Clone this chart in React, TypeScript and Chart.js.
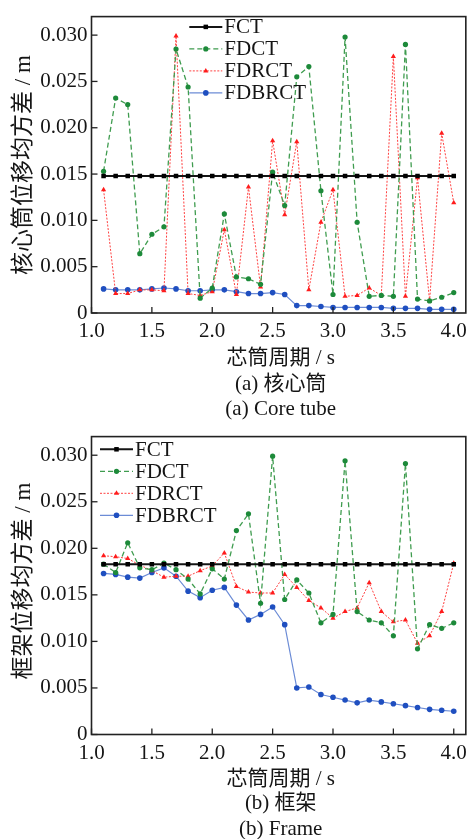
import React, { useEffect, useRef } from "react";
import Chart from "chart.js/auto";

const periods = [1.1, 1.2, 1.3, 1.4, 1.5, 1.6, 1.7, 1.8, 1.9, 2.0, 2.1, 2.2, 2.3, 2.4, 2.5, 2.6, 2.7, 2.8, 2.9, 3.0, 3.1, 3.2, 3.3, 3.4, 3.5, 3.6, 3.7, 3.8, 3.9, 4.0];

const coreFCT = [0.0148, 0.0148, 0.0148, 0.0148, 0.0148, 0.0148, 0.0148, 0.0148, 0.0148, 0.0148, 0.0148, 0.0148, 0.0148, 0.0148, 0.0148, 0.0148, 0.0148, 0.0148, 0.0148, 0.0148, 0.0148, 0.0148, 0.0148, 0.0148, 0.0148, 0.0148, 0.0148, 0.0148, 0.0148, 0.0148];
const coreFDCT = [0.0153, 0.0232, 0.0225, 0.0064, 0.0085, 0.0093, 0.0285, 0.0244, 0.0016, 0.0027, 0.0107, 0.0039, 0.0037, 0.0031, 0.0152, 0.0116, 0.0255, 0.0266, 0.0132, 0.0020, 0.0298, 0.0098, 0.0018, 0.0019, 0.0018, 0.0290, 0.0015, 0.0013, 0.0017, 0.0022];
const coreFDRCT = [0.0133, 0.0021, 0.0021, 0.0025, 0.0025, 0.0024, 0.0299, 0.0021, 0.0019, 0.0023, 0.0090, 0.0020, 0.0136, 0.0028, 0.0186, 0.0106, 0.0185, 0.0025, 0.0098, 0.0133, 0.0018, 0.0019, 0.0027, 0.0019, 0.0277, 0.0018, 0.0146, 0.0013, 0.0194, 0.0119];
const coreFDBRCT = [0.0026, 0.0025, 0.0025, 0.0025, 0.0026, 0.0027, 0.0026, 0.0024, 0.0024, 0.0025, 0.0025, 0.0023, 0.0021, 0.0021, 0.0022, 0.0020, 0.0008, 0.0008, 0.0007, 0.0006, 0.0006, 0.0006, 0.0006, 0.0006, 0.0005, 0.0005, 0.0005, 0.0004, 0.0004, 0.0004];

const frameFCT = [0.0183, 0.0183, 0.0183, 0.0183, 0.0183, 0.0183, 0.0183, 0.0183, 0.0183, 0.0183, 0.0183, 0.0183, 0.0183, 0.0183, 0.0183, 0.0183, 0.0183, 0.0183, 0.0183, 0.0183, 0.0183, 0.0183, 0.0183, 0.0183, 0.0183, 0.0183, 0.0183, 0.0183, 0.0183, 0.0183];
const frameFDCT = [0.0183, 0.0174, 0.0206, 0.0179, 0.0177, 0.0184, 0.0177, 0.0167, 0.0151, 0.0178, 0.0167, 0.0219, 0.0237, 0.0141, 0.0299, 0.0145, 0.0166, 0.0152, 0.0120, 0.0129, 0.0294, 0.0132, 0.0123, 0.0120, 0.0106, 0.0291, 0.0092, 0.0118, 0.0114, 0.0120];
const frameFDRCT = [0.0192, 0.0191, 0.0189, 0.0182, 0.0176, 0.0169, 0.0170, 0.0170, 0.0176, 0.0181, 0.0195, 0.0159, 0.0153, 0.0152, 0.0152, 0.0172, 0.0158, 0.0144, 0.0136, 0.0125, 0.0132, 0.0136, 0.0163, 0.0132, 0.0121, 0.0123, 0.0098, 0.0106, 0.0132, 0.0184];
const frameFDBRCT = [0.0173, 0.0172, 0.0169, 0.0168, 0.0174, 0.0179, 0.0170, 0.0154, 0.0147, 0.0155, 0.0158, 0.0139, 0.0123, 0.0129, 0.0137, 0.0118, 0.0050, 0.0051, 0.0043, 0.0040, 0.0037, 0.0034, 0.0037, 0.0035, 0.0033, 0.0031, 0.0029, 0.0027, 0.0026, 0.0025];

const xTicks = [1.0, 1.5, 2.0, 2.5, 3.0, 3.5, 4.0];
const yTicks = [0, 0.005, 0.01, 0.015, 0.02, 0.025, 0.03];
const seriesNames = ["FCT", "FDCT", "FDRCT", "FDBRCT"];

const SERIF = "'Liberation Serif', serif";
const TITLE_FONT = "'Liberation Serif', 'Noto Sans CJK SC', serif";

const seriesStyles = [
  { borderColor: "#151515", pointBackgroundColor: "#000", pointBorderColor: "#000", borderWidth: 2, borderDash: [] as number[], pointStyle: "rect", pointRadius: 3.2 },
  { borderColor: "#3f9c4f", pointBackgroundColor: "#1d8a3a", pointBorderColor: "#1d8a3a", borderWidth: 1.3, borderDash: [5, 3], pointStyle: "circle", pointRadius: 2.6 },
  { borderColor: "#ff4040", pointBackgroundColor: "#ff1c1c", pointBorderColor: "#ff1c1c", borderWidth: 1, borderDash: [2, 1.5], pointStyle: "triangle", pointRadius: 3 },
  { borderColor: "#6c8cd6", pointBackgroundColor: "#1f4fc0", pointBorderColor: "#1f4fc0", borderWidth: 1.2, borderDash: [] as number[], pointStyle: "circle", pointRadius: 2.8 },
];

function drawMarker(ctx: CanvasRenderingContext2D, style: string, x: number, y: number, r: number) {
  ctx.beginPath();
  if (style === "rect") {
    const s = Math.SQRT1_2 * r;
    ctx.rect(x - s, y - s, 2 * s, 2 * s);
  } else if (style === "triangle") {
    ctx.moveTo(x, y - r);
    ctx.lineTo(x + r * 0.866, y + r * 0.5);
    ctx.lineTo(x - r * 0.866, y + r * 0.5);
    ctx.closePath();
  } else {
    ctx.arc(x, y, r, 0, Math.PI * 2);
  }
  ctx.fill();
}

const decorPlugin = {
  id: "decor",
  afterDatasetsDraw(chart: any, _args: any, opts: any) {
    const { ctx, chartArea, scales } = chart;
    const { left, top, right, bottom } = chartArea;
    ctx.save();
    ctx.strokeStyle = "#222";
    ctx.lineWidth = 1.3;
    ctx.setLineDash([]);
    scales.x.ticks.forEach((t: any) => {
      const px = scales.x.getPixelForValue(t.value);
      ctx.beginPath();
      ctx.moveTo(px, bottom);
      ctx.lineTo(px, bottom - 6);
      ctx.stroke();
    });
    scales.y.ticks.forEach((t: any) => {
      const py = scales.y.getPixelForValue(t.value);
      ctx.beginPath();
      ctx.moveTo(left, py);
      ctx.lineTo(left + 6, py);
      ctx.stroke();
    });
    ctx.lineWidth = 1.6;
    ctx.strokeRect(left, top, right - left, bottom - top);

    // legend
    const x0 = left + opts.legendX;
    chart.data.datasets.forEach((ds: any, i: number) => {
      const y = top + opts.legendY + i * 22;
      ctx.save();
      ctx.strokeStyle = ds.borderColor;
      ctx.lineWidth = ds.borderWidth;
      ctx.setLineDash(ds.borderDash || []);
      ctx.beginPath();
      ctx.moveTo(x0, y);
      ctx.lineTo(x0 + 33, y);
      ctx.stroke();
      ctx.setLineDash([]);
      ctx.fillStyle = ds.pointBackgroundColor;
      drawMarker(ctx, ds.pointStyle, x0 + 16.5, y, ds.pointRadius);
      ctx.fillStyle = "#151515";
      ctx.font = "21px 'Liberation Serif'";
      ctx.textBaseline = "middle";
      ctx.textAlign = "left";
      ctx.fillText(ds.label, x0 + 35, y + 1);
      ctx.restore();
    });
    ctx.restore();
  },
};

type PanelProps = {
  top: number;
  height: number;
  xAxisHeight: number;
  series: number[][];
  legendX: number;
  legendY: number;
};

function Panel({ top, height, xAxisHeight, series, legendX, legendY }: PanelProps) {
  const ref = useRef<HTMLCanvasElement | null>(null);
  useEffect(() => {
    if (!ref.current) return;
    const datasets = series.map((vals, i) => ({
      label: seriesNames[i],
      data: periods.map((p, j) => ({ x: p, y: vals[j] })),
      ...seriesStyles[i],
      pointBorderWidth: 0,
      fill: false,
      tension: 0,
    }));
    const chart = new Chart(ref.current, {
      type: "line",
      data: { datasets: datasets as any },
      plugins: [decorPlugin as any],
      options: {
        animation: false,
        responsive: false,
        devicePixelRatio: 1,
        layout: { padding: { top: 8, right: 3, left: 0, bottom: 0 } },
        plugins: {
          legend: { display: false },
          tooltip: { enabled: false },
          decor: { legendX, legendY },
        } as any,
        scales: {
          x: {
            type: "linear",
            min: 1.0,
            max: 4.1,
            grid: { display: false, drawTicks: false },
            border: { display: false },
            afterBuildTicks: (s: any) => {
              s.ticks = xTicks.map((v) => ({ value: v }));
            },
            afterFit: (s: any) => {
              s.height = xAxisHeight;
            },
            ticks: {
              padding: 6,
              color: "#151515",
              font: { family: SERIF, size: 21 },
              callback: (v: any) => Number(v).toFixed(1),
            },
            title: { display: false },
          },
          y: {
            type: "linear",
            min: 0,
            max: 0.032,
            grid: { display: false, drawTicks: false },
            border: { display: false },
            afterBuildTicks: (s: any) => {
              s.ticks = yTicks.map((v) => ({ value: v }));
            },
            afterFit: (s: any) => {
              s.width = 91.5;
            },
            ticks: {
              padding: 4,
              color: "#151515",
              font: { family: SERIF, size: 21 },
              callback: (v: any) => (Number(v) === 0 ? "0" : Number(v).toFixed(3)),
            },
            title: { display: false },
          },
        },
      } as any,
    });
    return () => {
      chart.destroy();
    };
  }, []);
  return (
    <canvas
      ref={ref}
      width={473}
      height={height}
      style={{ position: "absolute", left: 0, top, width: 473, height, display: "block" }}
    />
  );
}

const captionStyle = (top: number): React.CSSProperties => ({
  position: "absolute",
  left: 91.5,
  width: 378.5,
  top,
  textAlign: "center",
  fontFamily: TITLE_FONT,
  fontSize: 21,
  lineHeight: "25px",
  color: "#151515",
  whiteSpace: "nowrap",
});

const yTitleStyle = (centerY: number): React.CSSProperties => ({
  position: "absolute",
  left: 23 - 160,
  top: centerY - 14,
  width: 320,
  height: 28,
  lineHeight: "28px",
  textAlign: "center",
  transform: "rotate(-90deg)",
  transformOrigin: "50% 50%",
  fontFamily: TITLE_FONT,
  fontSize: 23,
  color: "#151515",
  whiteSpace: "nowrap",
});

export default function App() {
  return (
    <div style={{ position: "absolute", left: 0, top: 0, width: 473, height: 839, background: "#fff", overflow: "hidden" }}>
      <Panel
        top={0}
        height={370}
        xAxisHeight={57}
        series={[coreFCT, coreFDCT, coreFDRCT, coreFDBRCT]}
        legendX={97.8}
        legendY={10.3}
      />
      <div style={yTitleStyle(165)}>核心筒位移均方差 / m</div>
      <div style={captionStyle(345)}>芯筒周期 / s</div>
      <div style={captionStyle(370.5)}>(a) 核心筒</div>
      <div style={captionStyle(395.5)}>(a) Core tube</div>
      <Panel
        top={420}
        height={372}
        xAxisHeight={57.5}
        series={[frameFCT, frameFDCT, frameFDRCT, frameFDBRCT]}
        legendX={8.5}
        legendY={12.7}
      />
      <div style={yTitleStyle(581)}>框架位移均方差 / m</div>
      <div style={captionStyle(766)}>芯筒周期 / s</div>
      <div style={captionStyle(790)}>(b) 框架</div>
      <div style={captionStyle(815.5)}>(b) Frame</div>
    </div>
  );
}
